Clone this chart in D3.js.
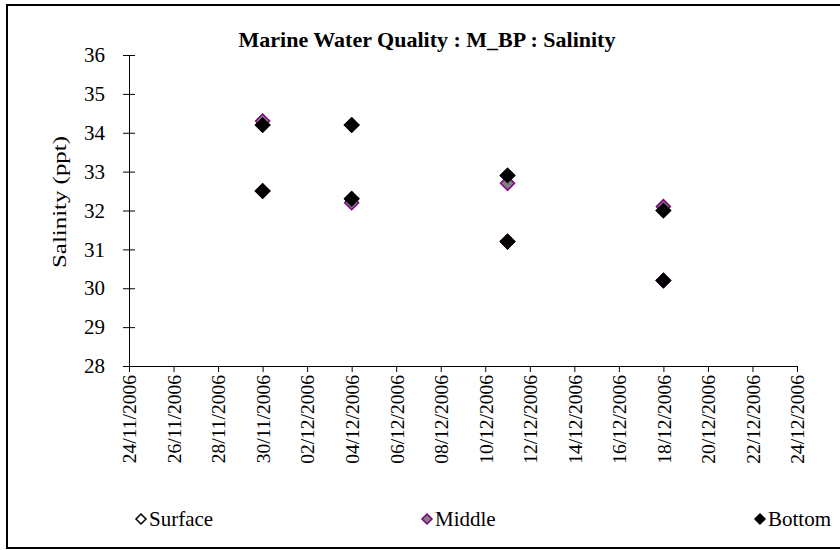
<!DOCTYPE html>
<html><head><meta charset="utf-8">
<script src="https://cdn.jsdelivr.net/npm/d3@7"></script>
<style>body{margin:0;background:#fff}svg{display:block}</style>
</head><body>
<svg id="c" width="840" height="550"></svg>
<script>
const dates = ["30/11/2006","30/11/2006","04/12/2006","04/12/2006","11/12/2006","11/12/2006","18/12/2006","18/12/2006"];
const surface = [34.2, 32.5, 34.2, 32.3, 32.9, 31.2, 32.0, 30.2];
const middle  = [34.3, 32.5, 34.2, 32.2, 32.7, 31.2, 32.1, 30.2];
const bottom  = [34.2, 32.5, 34.2, 32.3, 32.9, 31.2, 32.0, 30.2];
const xTickLabels = ["24/11/2006","26/11/2006","28/11/2006","30/11/2006","02/12/2006","04/12/2006","06/12/2006","08/12/2006","10/12/2006","12/12/2006","14/12/2006","16/12/2006","18/12/2006","20/12/2006","22/12/2006","24/12/2006"];
const yTicks = [28,29,30,31,32,33,34,35,36];
const seriesNames = ["Surface","Middle","Bottom"];

const parse = d3.utcParse("%d/%m/%Y");
const fmt = d3.utcFormat("%d/%m/%Y");
const svg = d3.select("#c");
const font = "'Liberation Serif','Times New Roman',serif";

svg.append("rect").attr("x",7).attr("y",5).attr("width",840).attr("height",543)
  .attr("fill","#fff").attr("stroke","#000").attr("stroke-width",2);

const L=129, R=797, T=55, B=366;
const x = d3.scaleUtc().domain([parse(xTickLabels[0]), parse(xTickLabels[xTickLabels.length-1])]).range([L,R]);
const y = d3.scaleLinear().domain([28,36]).range([B,T]);

// y axis
const ya = svg.append("g").attr("transform",`translate(${L},0)`)
  .call(d3.axisLeft(y).tickValues(yTicks).tickSize(6).tickSizeOuter(0).tickPadding(18));
ya.select(".domain").attr("stroke","#000");
ya.selectAll(".tick line").attr("x1",6).attr("x2",-6).attr("stroke","#000");
ya.selectAll("text").attr("font-family",font).attr("font-size",21).attr("fill","#000");

// x axis
const xa = svg.append("g").attr("transform",`translate(0,${B})`)
  .call(d3.axisBottom(x).tickValues(xTickLabels.map(parse)).tickFormat(fmt).tickSize(6).tickSizeOuter(0));
xa.select(".domain").attr("stroke","#000");
xa.selectAll(".tick line").attr("stroke","#000");
xa.selectAll("text").attr("font-family",font).attr("font-size",19.5).attr("fill","#000")
  .attr("transform","rotate(-90)").attr("text-anchor","end").attr("dy","0.35em")
  .attr("x",-9).attr("y",0);

// titles
svg.append("text").attr("x",427).attr("y",47).attr("text-anchor","middle")
  .attr("font-family",font).attr("font-size",22).attr("font-weight","bold").text("Marine Water Quality : M_BP : Salinity");
svg.append("text").attr("transform","translate(66,202) rotate(-90)").attr("text-anchor","middle")
  .attr("font-family",font).attr("font-size",19).attr("textLength",132).attr("lengthAdjust","spacingAndGlyphs")
  .text("Salinity (ppt)");

const diamond = "M0,-7L7,0L0,7L-7,0Z";
const styles = [
  {fill:"#fff", stroke:"#000"},
  {fill:"#808080", stroke:"#800080"},
  {fill:"#000", stroke:"#000"}
];
const all = [surface, middle, bottom];
all.forEach((vals,i)=>{
  svg.append("g").selectAll("path").data(vals).join("path")
    .attr("d",diamond)
    .attr("transform",(d,j)=>`translate(${x(parse(dates[j]))},${y(d)})`)
    .attr("fill",styles[i].fill).attr("stroke",styles[i].stroke).attr("stroke-width",1.5);
});

// legend
const legX = [141, 427, 760];
const lg = svg.append("g");
seriesNames.forEach((n,i)=>{
  lg.append("path").attr("d","M0,-5L5,0L0,5L-5,0Z").attr("transform",`translate(${legX[i]},519)`)
    .attr("fill",styles[i].fill).attr("stroke",styles[i].stroke).attr("stroke-width",1.5);
  lg.append("text").attr("x",legX[i]+8).attr("y",526).attr("font-family",font).attr("font-size",21).text(n);
});
</script>
</body></html>
